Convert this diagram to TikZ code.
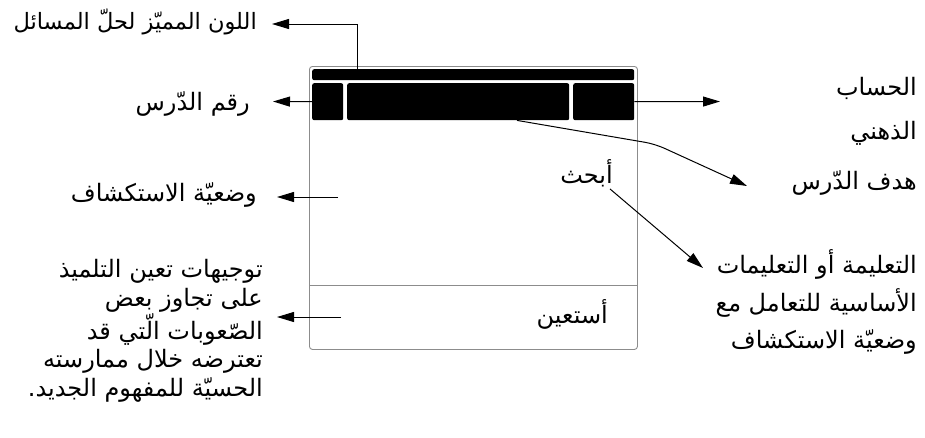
\documentclass[tikz,border=0pt]{standalone}
\usepackage{fontspec}
\newfontfamily\arabicfont[Script=Arabic]{DejaVu Sans}
\TeXXeTstate=1
\usetikzlibrary{arrows.meta,calc}
\newcommand\AR[1]{\beginR #1\endR}
\begin{document}
\begin{tikzpicture}[x=1pt,y=-1pt,
  lbl/.style={font=\arabicfont\fontsize{24}{28.5}\selectfont, inner sep=0pt, anchor=east, align=right},
  arr/.style={line width=1pt, -{Triangle[length=17pt,width=10pt]}},
  blk/.style={fill=black, draw=none, rounded corners=2pt, inner sep=0pt, anchor=north west},
  frm/.style={draw=black!45, line width=0.9pt}]
\useasboundingbox (0,0) rectangle (925,437);
% frame and header
\node[frm, rounded corners=3pt, minimum width=328pt, minimum height=283pt, inner sep=0pt, anchor=north west] (frame) at (309,66) {};
\node[blk, minimum width=322pt, minimum height=11pt] (bar) at (312,69) {};
\node[blk, minimum width=31pt, minimum height=37pt] (blkL) at (312,83) {};
\node[blk, minimum width=222pt, minimum height=37pt] (blkM) at (347,83) {};
\node[blk, minimum width=61pt, minimum height=37pt] (blkR) at (573,83) {};
\draw[frm] ([yshift=-219pt]frame.north west) -- ([yshift=-219pt]frame.north east);
% labels
\node[lbl, font=\arabicfont\fontsize{22.5}{27}\selectfont] (t1) at (257,22) {\AR{اللون المميّز لحلّ المسائل}};
\node[lbl] (rq) at (250,104) {\AR{رقم الدّرس}};
\node[lbl] (wd) at (257,195) {\AR{وضعيّة الاستكشاف}};
\node[lbl] (tw) at (263,331) {\AR{توجيهات تعين التلميذ}\\\AR{على تجاوز بعض}\\\AR{الصّعوبات الّتي قد}\\\AR{تعترضه خلال ممارسته}\\\AR{الحسيّة للمفهوم الجديد.}};
\node[lbl, font=\arabicfont\fontsize{24}{44}\selectfont] (hs) at (917,111) {\AR{الحساب}\\\AR{الذهني}};
\node[lbl] (hd) at (917,183) {\AR{هدف الدّرس}};
\node[lbl, font=\arabicfont\fontsize{24}{37.5}\selectfont] (ta) at (917,302) {\AR{التعليمة أو التعليمات}\\\AR{الأساسية للتعامل مع}\\\AR{وضعيّة الاستكشاف}};
\node[lbl] (ab) at (613,173) {\AR{أبحث}};
\node[lbl] (as) at (608,314) {\AR{أستعين}};
% connectors
\coordinate (tT) at (272,24);
\coordinate (tRq) at (273,101.5);
\coordinate (tR) at (720,101.5);
\coordinate (hB) at (655,144);
\coordinate (tH) at (747,186);
\coordinate (tAb) at (703,268);
\coordinate (wS) at (338,197);
\coordinate (tW) at (277,197);
\coordinate (aS) at (341,317);
\coordinate (tA) at (277,317);
\draw[arr] ([xshift=45pt]bar.north west) |- (tT);
\draw[arr] (blkL.west) -- (tRq);
\draw[arr] (blkR.east) -- (tR);
\draw[arr, rounded corners=10pt] ([xshift=170pt]blkM.south west) -- (hB) -- (tH);
\draw[arr] ([xshift=-3pt,yshift=-2pt]ab.south east) -- (tAb);
\draw[arr] (wS) -- (tW);
\draw[arr] (aS) -- (tA);
\end{tikzpicture}
\end{document}
